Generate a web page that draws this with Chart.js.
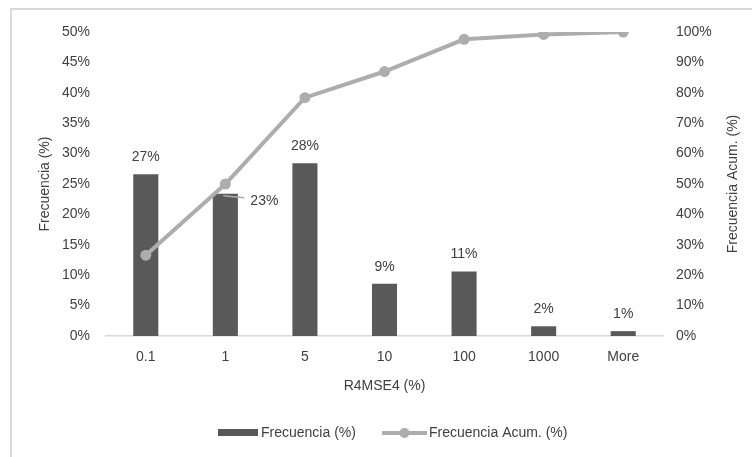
<!DOCTYPE html>
<html>
<head>
<meta charset="utf-8">
<script src="https://cdn.jsdelivr.net/npm/chart.js@4/dist/chart.umd.min.js"></script>
<style>
  html, body { margin: 0; padding: 0; background: #ffffff; }
  #wrap { position: relative; width: 752px; height: 457px; }
</style>
</head>
<body>
<div id="wrap"><canvas id="c" width="752" height="457"></canvas></div>
<script>
// Histogram of R4MSE4 (%) with its cumulative frequency
const categories = ['0.1', '1', '5', '10', '100', '1000', 'More'];
const frecuencia = [26.6, 23.4, 28.4, 8.6, 10.6, 1.6, 0.8];
const frecuenciaAcum = [26.6, 50.0, 78.4, 87.0, 97.6, 99.2, 100.0];
const leftTicks = [0, 5, 10, 15, 20, 25, 30, 35, 40, 45, 50];
const rightTicks = [0, 10, 20, 30, 40, 50, 60, 70, 80, 90, 100];

const FONT = '"Liberation Sans", Arial, sans-serif';
const FSIZE = 14;
const TEXT = '#404040';
const BAR = '#595959';
const LINE = '#ADADAD';
const AXIS = '#D9D9D9';

Chart.defaults.font.family = FONT;
Chart.defaults.font.size = FSIZE;
Chart.defaults.color = TEXT;

const pct = v => v + '%';

// Outer frame, bar value labels, rotated right title and the legend
const decorations = {
  id: 'decorations',
  beforeDraw(chart) {
    const ctx = chart.ctx;
    ctx.save();
    ctx.strokeStyle = AXIS;
    ctx.lineWidth = 2;
    ctx.beginPath();
    ctx.moveTo(11, 457);
    ctx.lineTo(11, 9);
    ctx.lineTo(752, 9);
    ctx.stroke();
    ctx.restore();
  },
  afterDatasetsDraw(chart) {
    const ctx = chart.ctx;
    const meta = chart.getDatasetMeta(0);
    ctx.save();
    ctx.font = FSIZE + 'px ' + FONT;
    ctx.fillStyle = TEXT;
    ctx.textBaseline = 'middle';
    meta.data.forEach((bar, i) => {
      const txt = Math.round(frecuencia[i]) + '%';
      if (i === 1) {
        // label placed beside the bar with a short leader line
        ctx.strokeStyle = LINE;
        ctx.lineWidth = 1.5;
        ctx.beginPath();
        ctx.moveTo(bar.x - 2, bar.y + 2);
        ctx.lineTo(bar.x + 19, bar.y + 4);
        ctx.stroke();
        ctx.textAlign = 'left';
        ctx.fillText(txt, bar.x + 25, bar.y + 7);
      } else {
        ctx.textAlign = 'center';
        ctx.fillText(txt, bar.x, bar.y - 17);
      }
    });
    ctx.restore();
  },
  afterDraw(chart) {
    const ctx = chart.ctx;
    const area = chart.chartArea;
    ctx.save();
    ctx.font = FSIZE + 'px ' + FONT;
    ctx.fillStyle = TEXT;
    ctx.textBaseline = 'middle';

    // right axis title, reading upwards
    ctx.save();
    ctx.translate(733, (area.top + area.bottom) / 2);
    ctx.rotate(-Math.PI / 2);
    ctx.textAlign = 'center';
    ctx.fillText('Frecuencia Acum. (%)', 0, 0);
    ctx.restore();

    // legend
    const ly = 433;
    ctx.fillStyle = BAR;
    ctx.fillRect(218, ly - 4, 40, 7);
    ctx.fillStyle = TEXT;
    ctx.textAlign = 'left';
    ctx.fillText('Frecuencia (%)', 261, ly);

    ctx.strokeStyle = LINE;
    ctx.lineWidth = 4;
    ctx.beginPath();
    ctx.moveTo(382, ly);
    ctx.lineTo(427, ly);
    ctx.stroke();
    ctx.fillStyle = LINE;
    ctx.beginPath();
    ctx.arc(404.5, ly, 5, 0, Math.PI * 2);
    ctx.fill();
    ctx.fillStyle = TEXT;
    ctx.fillText('Frecuencia Acum. (%)', 429, ly);
    ctx.restore();
  }
};

new Chart(document.getElementById('c'), {
  type: 'bar',
  data: {
    labels: categories,
    datasets: [
      {
        type: 'bar',
        label: 'Frecuencia (%)',
        data: frecuencia,
        backgroundColor: BAR,
        borderWidth: 0,
        categoryPercentage: 1,
        barPercentage: 0.315,
        yAxisID: 'y',
        order: 2
      },
      {
        type: 'line',
        label: 'Frecuencia Acum. (%)',
        data: frecuenciaAcum,
        borderColor: LINE,
        backgroundColor: LINE,
        borderWidth: 4,
        pointRadius: 5.5,
        pointBackgroundColor: LINE,
        pointBorderWidth: 0,
        tension: 0,
        fill: false,
        yAxisID: 'y1',
        order: 1
      }
    ]
  },
  options: {
    responsive: false,
    animation: false,
    layout: { padding: { top: 32, bottom: 57, left: 0, right: 0 } },
    plugins: {
      legend: { display: false },
      tooltip: { enabled: false }
    },
    scales: {
      x: {
        grid: { display: false, drawTicks: false },
        border: { display: true, color: AXIS, width: 1.5 },
        ticks: { padding: 13, color: TEXT },
        title: { display: true, text: 'R4MSE4 (%)', color: TEXT, padding: { top: 0, bottom: 5 } },
        afterFit(s) { s.height = 64; }
      },
      y: {
        position: 'left',
        min: 0,
        max: 50,
        grid: { display: false, drawTicks: false },
        border: { display: false },
        ticks: { padding: 16, color: TEXT, callback: pct },
        afterBuildTicks(s) { s.ticks = leftTicks.map(v => ({ value: v })); },
        title: { display: true, text: 'Frecuencia (%)', color: TEXT, padding: { top: 37, bottom: 0 } },
        afterFit(s) { s.width = 106; }
      },
      y1: {
        position: 'right',
        min: 0,
        max: 100,
        grid: { display: false, drawTicks: false },
        border: { display: false },
        ticks: { padding: 13, color: TEXT, callback: pct },
        afterBuildTicks(s) { s.ticks = rightTicks.map(v => ({ value: v })); },
        afterFit(s) { s.width = 89; }
      }
    }
  },
  plugins: [decorations]
});
</script>
</body>
</html>
